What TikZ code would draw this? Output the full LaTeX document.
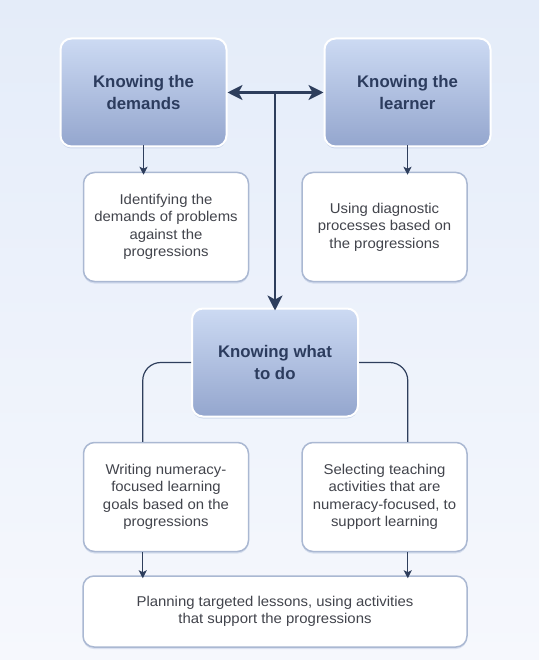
\documentclass[tikz,border=0pt]{standalone}
\usepackage{fontspec}
\setmainfont{Liberation Sans}
\newfontfamily\bodyfont[FakeStretch=1.05]{Liberation Sans}
\usetikzlibrary{arrows.meta,calc,shadows}
\definecolor{navy}{RGB}{46,62,92}
\definecolor{titletxt}{RGB}{44,60,94}
\definecolor{bodytxt}{RGB}{66,68,76}
\definecolor{boxtop}{RGB}{204,218,243}
\definecolor{boxbot}{RGB}{148,166,206}
\definecolor{wborder}{RGB}{170,184,210}
\definecolor{bgtop}{RGB}{228,236,249}
\definecolor{bgbot}{RGB}{246,248,253}
\definecolor{shadowc}{RGB}{150,170,210}
\tikzset{
  keybox/.style={rectangle, rounded corners=11pt, draw=white, line width=2pt,
    top color=boxtop, bottom color=boxbot, minimum width=166pt, minimum height=108pt,
    text=titletxt, font=\fontsize{16.8}{22}\selectfont\bfseries, align=center,
    drop shadow={shadow xshift=0pt, shadow yshift=-2pt, fill=shadowc, opacity=0.35}},
  textbox/.style={rectangle, rounded corners=11pt, draw=wborder, line width=1.5pt,
    fill=white, minimum width=165pt, minimum height=109pt,
    text=bodytxt, font=\bodyfont\fontsize{14.2}{17.5}\selectfont, align=center,
    drop shadow={shadow xshift=0pt, shadow yshift=-2pt, fill=shadowc, opacity=0.3}},
  bigarrow/.style={draw=navy, line width=2.6pt, -{Stealth[length=15pt,width=15pt,inset=4pt]}},
  smallarrow/.style={draw=navy, line width=1.3pt, -{Stealth[length=8pt,width=8pt,inset=2pt]}},
  linkline/.style={draw=navy, line width=1.2pt, rounded corners=18pt},
}
\begin{document}
\begin{tikzpicture}[x=1pt,y=-1pt]
  \useasboundingbox (0,0) rectangle (539,660);
  \shade[top color=bgtop, bottom color=bgbot] (0,0) rectangle (539,660);

  \node[keybox] (dem) at (143.5,92.5) {Knowing the\\demands};
  \node[keybox] (lea) at (407.5,92.5) {Knowing the\\learner};
  \node[textbox] (idt) at (166,227) {Identifying the\\demands of problems\\against the\\progressions};
  \node[textbox] (diag) at (384.5,227) {Using diagnostic\\processes based on\\the progressions};
  \node[keybox] (what) at (275,362.5) {Knowing what\\to do};
  \node[textbox] (wl) at (166,497) {Writing numeracy-\\focused learning\\goals based on the\\progressions};
  \node[textbox] (wr) at (384.5,497) {Selecting teaching\\activities that are\\numeracy-focused, to\\support learning};
  \node[textbox, minimum width=384pt, minimum height=71pt] (plan) at (275,611.5) {Planning targeted lessons, using activities\\that support the progressions};

  % double arrow and junction
  \coordinate (junc) at (what.north |- dem.east);
  \draw[bigarrow] (junc) -- (dem.east);
  \draw[bigarrow] (junc) -- (lea.west);
  \draw[bigarrow] (junc) -- ([yshift=-3pt]what.north);

  % small arrows top
  \draw[smallarrow] ([yshift=2pt]dem.south) -- ([yshift=-3pt]dem.south |- idt.north);
  \draw[smallarrow] ([yshift=2pt]lea.south) -- ([yshift=-3pt]lea.south |- diag.north);

  % connectors from "what"
  \coordinate (wlin) at ($(wl.north west)+(60,0)$);
  \coordinate (wrin) at ($(wr.north east)+(-60,0)$);
  \draw[linkline] (what.west) -| (wlin);
  \draw[linkline] (what.east) -| (wrin);

  % bottom arrows
  \draw[smallarrow] (wlin |- wl.south) -- ([yshift=-3pt]wlin |- plan.north);
  \draw[smallarrow] (wrin |- wr.south) -- ([yshift=-3pt]wrin |- plan.north);
\end{tikzpicture}
\end{document}
